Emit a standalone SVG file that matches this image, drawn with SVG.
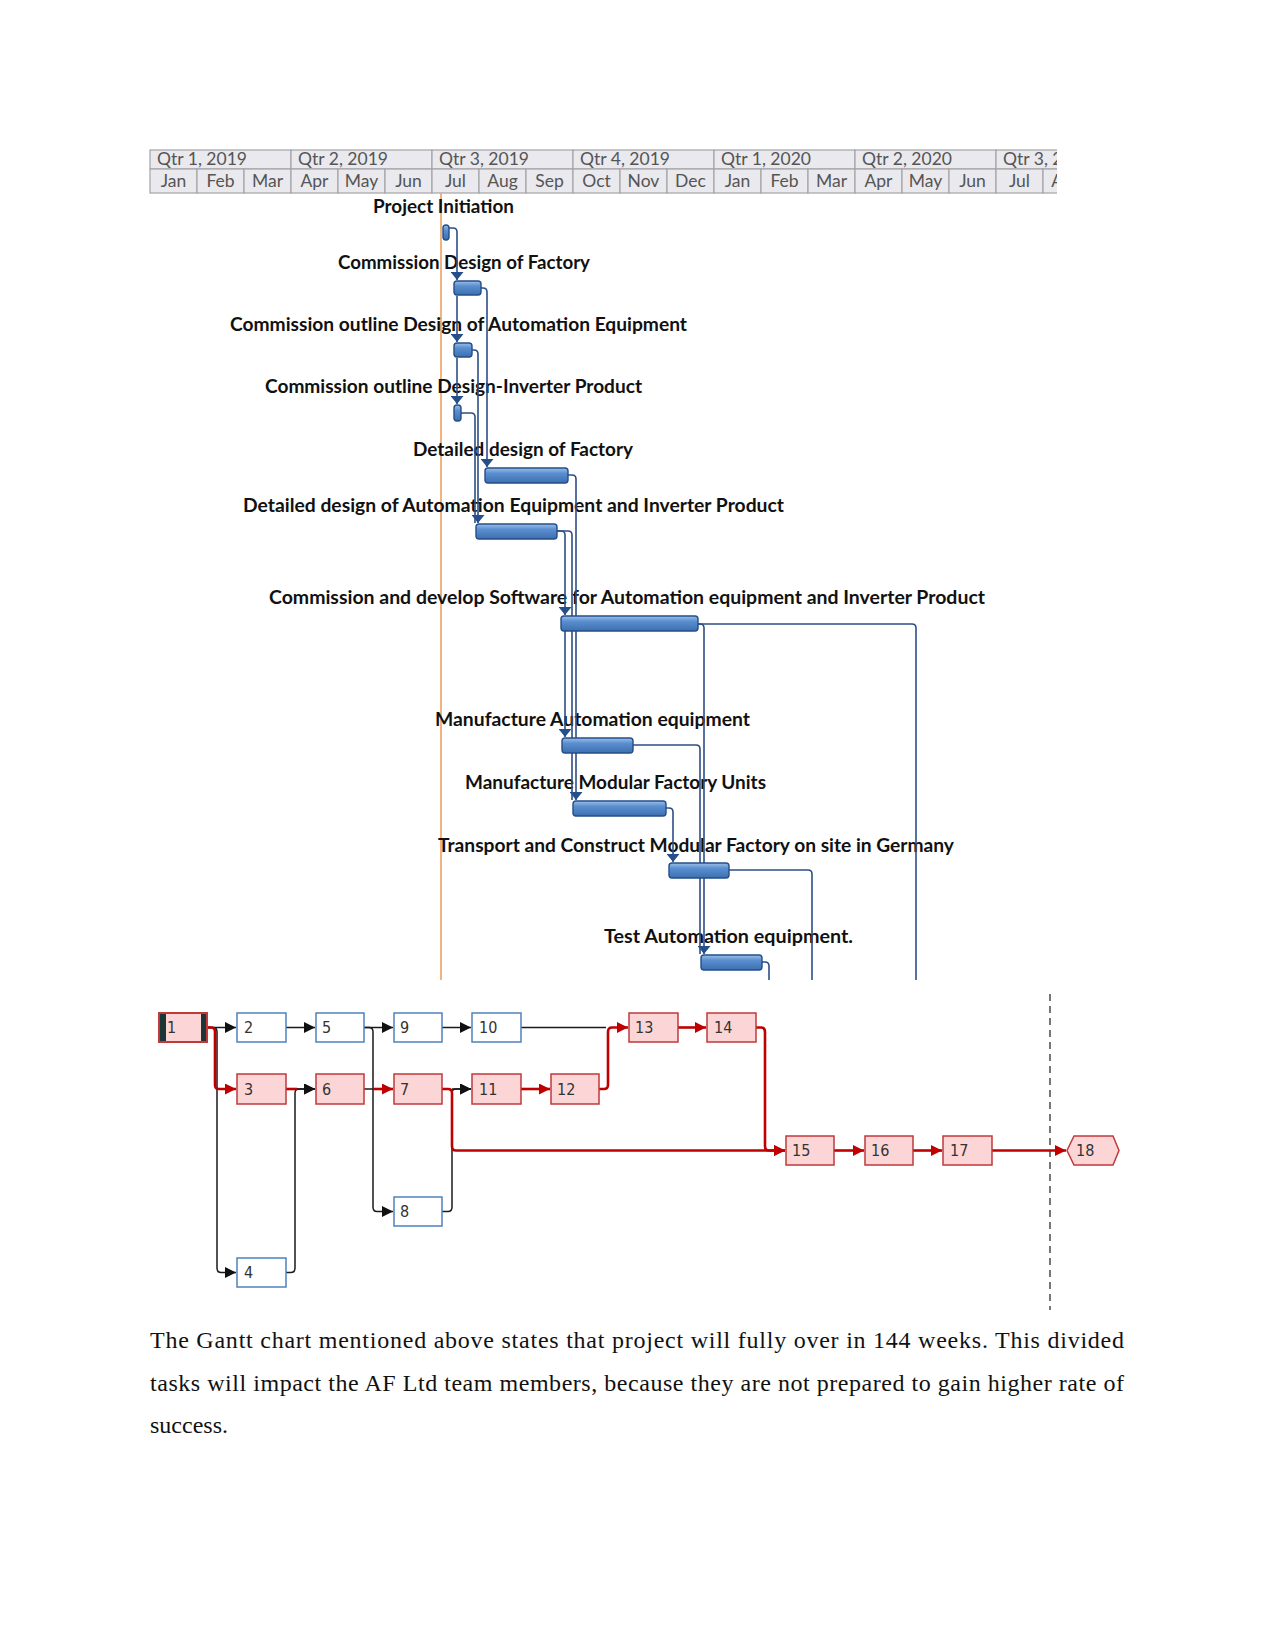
<svg xmlns="http://www.w3.org/2000/svg" width="1275" height="1650" viewBox="0 0 1275 1650">
<defs>
<style>
.hdr{fill:#e9e9ee;stroke:#a3a3a8;stroke-width:1.2}
.ht{font-family:Lato,"Open Sans",sans-serif;font-size:17.5px;fill:#555}
.gl{font-family:Lato,"Noto Sans",sans-serif;font-size:18px;font-weight:bold;fill:#111}
.bar{fill:url(#bg);stroke:#244f88;stroke-width:1.4}
.gc{fill:none;stroke:#2d4f86;stroke-width:1.6}
.nb{fill:#fff;stroke:#4f81bd;stroke-width:1.5}
.nr{fill:#fcd6d6;stroke:#c0393b;stroke-width:1.5}
.nt{font-family:"DejaVu Sans Condensed","DejaVu Sans",sans-serif;font-size:16px;fill:#333}
.kb{fill:none;stroke:#1a1a1a;stroke-width:1.5}
.kr{fill:none;stroke:#c00000;stroke-width:2.6}
.para{font-family:"Liberation Serif","Times New Roman",serif;font-size:24px;fill:#111}
</style>
<linearGradient id="bg" x1="0" y1="0" x2="0" y2="1">
<stop offset="0" stop-color="#9cc0ea"/>
<stop offset="0.35" stop-color="#5b8fd0"/>
<stop offset="1" stop-color="#3d6fb0"/>
</linearGradient>
<marker id="ga" viewBox="0 0 10 10" refX="10" refY="5" markerWidth="8" markerHeight="13" markerUnits="userSpaceOnUse" orient="auto" preserveAspectRatio="none">
<path d="M0,0 L10,5 L0,10 z" fill="#244f88"/>
</marker>
<marker id="ab" viewBox="0 0 10 10" refX="10" refY="5" markerWidth="11" markerHeight="11" markerUnits="userSpaceOnUse" orient="auto" preserveAspectRatio="none">
<path d="M0,0 L10,5 L0,10 z" fill="#111"/>
</marker>
<marker id="ar" viewBox="0 0 10 10" refX="10" refY="5" markerWidth="11" markerHeight="11" markerUnits="userSpaceOnUse" orient="auto" preserveAspectRatio="none">
<path d="M0,0 L10,5 L0,10 z" fill="#c00000"/>
</marker>
<clipPath id="hc"><rect x="149" y="149" width="908" height="45"/></clipPath>
</defs>
<rect width="1275" height="1650" fill="#fff"/>

<!-- Timescale header -->
<g id="timescale" clip-path="url(#hc)">
<rect class="hdr" x="150" y="150" width="141" height="19"/>
<rect class="hdr" x="291" y="150" width="141" height="19"/>
<rect class="hdr" x="432" y="150" width="141" height="19"/>
<rect class="hdr" x="573" y="150" width="141" height="19"/>
<rect class="hdr" x="714" y="150" width="141" height="19"/>
<rect class="hdr" x="855" y="150" width="141" height="19"/>
<rect class="hdr" x="996" y="150" width="141" height="19"/>
<text class="ht" x="157" y="165">Qtr 1, 2019</text>
<text class="ht" x="298" y="165">Qtr 2, 2019</text>
<text class="ht" x="439" y="165">Qtr 3, 2019</text>
<text class="ht" x="580" y="165">Qtr 4, 2019</text>
<text class="ht" x="721" y="165">Qtr 1, 2020</text>
<text class="ht" x="862" y="165">Qtr 2, 2020</text>
<text class="ht" x="1003" y="165">Qtr 3, 2020</text>
<g>
<rect class="hdr" x="150" y="169" width="47" height="24"/>
<rect class="hdr" x="197" y="169" width="47" height="24"/>
<rect class="hdr" x="244" y="169" width="47" height="24"/>
<rect class="hdr" x="291" y="169" width="47" height="24"/>
<rect class="hdr" x="338" y="169" width="47" height="24"/>
<rect class="hdr" x="385" y="169" width="47" height="24"/>
<rect class="hdr" x="432" y="169" width="47" height="24"/>
<rect class="hdr" x="479" y="169" width="47" height="24"/>
<rect class="hdr" x="526" y="169" width="47" height="24"/>
<rect class="hdr" x="573" y="169" width="47" height="24"/>
<rect class="hdr" x="620" y="169" width="47" height="24"/>
<rect class="hdr" x="667" y="169" width="47" height="24"/>
<rect class="hdr" x="714" y="169" width="47" height="24"/>
<rect class="hdr" x="761" y="169" width="47" height="24"/>
<rect class="hdr" x="808" y="169" width="47" height="24"/>
<rect class="hdr" x="855" y="169" width="47" height="24"/>
<rect class="hdr" x="902" y="169" width="47" height="24"/>
<rect class="hdr" x="949" y="169" width="47" height="24"/>
<rect class="hdr" x="996" y="169" width="47" height="24"/>
<rect class="hdr" x="1043" y="169" width="47" height="24"/>
</g>
<g class="ht" text-anchor="middle">
<text x="173.5" y="187">Jan</text>
<text x="220.5" y="187">Feb</text>
<text x="267.5" y="187">Mar</text>
<text x="314.5" y="187">Apr</text>
<text x="361.5" y="187">May</text>
<text x="408.5" y="187">Jun</text>
<text x="455.5" y="187">Jul</text>
<text x="502.5" y="187">Aug</text>
<text x="549.5" y="187">Sep</text>
<text x="596.5" y="187">Oct</text>
<text x="643.5" y="187">Nov</text>
<text x="690.5" y="187">Dec</text>
<text x="737.5" y="187">Jan</text>
<text x="784.5" y="187">Feb</text>
<text x="831.5" y="187">Mar</text>
<text x="878.5" y="187">Apr</text>
<text x="925.5" y="187">May</text>
<text x="972.5" y="187">Jun</text>
<text x="1019.5" y="187">Jul</text>
<text x="1066.5" y="187">Aug</text>
</g>
</g>

<!-- current date line -->
<line x1="441" y1="193" x2="441" y2="980" stroke="#f0a060" stroke-width="1.6"/>

<!-- Gantt labels -->
<g id="gantt-labels">
<text class="gl" x="373" y="213" textLength="141" lengthAdjust="spacingAndGlyphs">Project Initiation</text>
<text class="gl" x="338" y="269" textLength="252" lengthAdjust="spacingAndGlyphs">Commission Design of Factory</text>
<text class="gl" x="230" y="331" textLength="457" lengthAdjust="spacingAndGlyphs">Commission outline Design of Automation Equipment</text>
<text class="gl" x="265" y="393" textLength="377" lengthAdjust="spacingAndGlyphs">Commission outline Design-Inverter Product</text>
<text class="gl" x="413" y="456" textLength="220" lengthAdjust="spacingAndGlyphs">Detailed design of Factory</text>
<text class="gl" x="243" y="512" textLength="541" lengthAdjust="spacingAndGlyphs">Detailed design of Automation Equipment and Inverter Product</text>
<text class="gl" x="269" y="604" textLength="716" lengthAdjust="spacingAndGlyphs">Commission and develop Software for Automation equipment and Inverter Product</text>
<text class="gl" x="435" y="726" textLength="315" lengthAdjust="spacingAndGlyphs">Manufacture Automation equipment</text>
<text class="gl" x="465" y="789" textLength="301" lengthAdjust="spacingAndGlyphs">Manufacture Modular Factory Units</text>
<text class="gl" x="438" y="852" textLength="516" lengthAdjust="spacingAndGlyphs">Transport and Construct Modular Factory on site in Germany</text>
<text class="gl" x="604" y="943" textLength="249" lengthAdjust="spacingAndGlyphs">Test Automation equipment.</text>
</g>

<!-- Gantt connectors -->
<g id="gantt-connectors">
<path class="gc" d="M449 228 H453 Q457 228 457 232 V280" marker-end="url(#ga)"/>
<path class="gc" d="M457 296 V342" marker-end="url(#ga)"/>
<path class="gc" d="M457 358 V404" marker-end="url(#ga)"/>
<path class="gc" d="M481 288 H483 Q487 288 487 292 V467" marker-end="url(#ga)"/>
<path class="gc" d="M472 350 H474 Q478 350 478 354 V523" marker-end="url(#ga)"/>
<path class="gc" d="M461 413 H471 Q475 413 475 417 V523"/>
<path class="gc" d="M568 475 H572 Q576 475 576 479 V800" marker-end="url(#ga)"/>
<path class="gc" d="M557 531 H561 Q565 531 565 535 V615" marker-end="url(#ga)"/>
<path class="gc" d="M565 631 V737" marker-end="url(#ga)"/>
<path class="gc" d="M557 531 H568 Q572 531 572 535 V800"/>
<path class="gc" d="M698 624 H700 Q704 624 704 628 V954" marker-end="url(#ga)"/>
<path class="gc" d="M698 624 H912 Q916 624 916 628 V980"/>
<path class="gc" d="M633 745 H696 Q700 745 700 749 V954"/>
<path class="gc" d="M666 808 H669 Q673 808 673 812 V862" marker-end="url(#ga)"/>
<path class="gc" d="M729 870 H808 Q812 870 812 874 V980"/>
<path class="gc" d="M762 962 H765 Q769 962 769 966 V980"/>
</g>

<!-- Gantt bars -->
<g id="task-1"><rect class="bar" x="443" y="225" width="6" height="15" rx="3"/></g>
<g id="task-2"><rect class="bar" x="454" y="281" width="27" height="14" rx="3"/></g>
<g id="task-3"><rect class="bar" x="454" y="343" width="18" height="14" rx="3"/></g>
<g id="task-4"><rect class="bar" x="454" y="405" width="7" height="16" rx="3"/></g>
<g id="task-5"><rect class="bar" x="485" y="468" width="83" height="15" rx="3"/></g>
<g id="task-6"><rect class="bar" x="476" y="524" width="81" height="15" rx="3"/></g>
<g id="task-7"><rect class="bar" x="561" y="616" width="137" height="15" rx="3"/></g>
<g id="task-8"><rect class="bar" x="562" y="738" width="71" height="15" rx="3"/></g>
<g id="task-9"><rect class="bar" x="573" y="801" width="93" height="15" rx="3"/></g>
<g id="task-10"><rect class="bar" x="669" y="863" width="60" height="15" rx="3"/></g>
<g id="task-11"><rect class="bar" x="701" y="955" width="61" height="15" rx="3"/></g>

<!-- Network connectors -->
<g id="net-connectors">
<line x1="1050" y1="994" x2="1050" y2="1310" stroke="#555" stroke-width="1.6" stroke-dasharray="7,5"/>
<path class="kb" d="M207 1027.5 H236" marker-end="url(#ab)"/>
<path class="kb" d="M207 1027.5 H213 Q217 1027.5 217 1032 V1268 Q217 1272.5 221 1272.5 H236" marker-end="url(#ab)"/>
<path class="kb" d="M286 1027.5 H315" marker-end="url(#ab)"/>
<path class="kb" d="M364 1027.5 H393" marker-end="url(#ab)"/>
<path class="kb" d="M364 1027.5 H369 Q373 1027.5 373 1032 V1207 Q373 1211.5 377 1211.5 H393" marker-end="url(#ab)"/>
<path class="kb" d="M442 1027.5 H471" marker-end="url(#ab)"/>
<path class="kb" d="M521 1027.5 H606"/>
<path class="kb" d="M286 1272.5 H291 Q295 1272.5 295 1268 V1093 Q295 1089 299 1089 H315" marker-end="url(#ab)"/>
<path class="kb" d="M296 1089 H315" marker-end="url(#ab)"/>
<path class="kb" d="M364 1089 H374"/>
<path class="kb" d="M442 1211.5 H448 Q452 1211.5 452 1207 V1093 Q452 1089 456 1089 H471" marker-end="url(#ab)"/>
<path class="kb" d="M452 1089 H471" marker-end="url(#ab)"/>
<path class="kr" d="M207 1027.5 H211 Q215 1027.5 215 1032 V1085 Q215 1089 219 1089 H236" marker-end="url(#ar)"/>
<path class="kr" d="M286 1089 H297"/>
<path class="kr" d="M373 1089 H393" marker-end="url(#ar)"/>
<path class="kr" d="M442 1089 H448 Q452 1089 452 1093 V1146 Q452 1150.5 456 1150.5 H785" marker-end="url(#ar)"/>
<path class="kr" d="M521 1089 H550" marker-end="url(#ar)"/>
<path class="kr" d="M599 1089 H604 Q608 1089 608 1085 V1032 Q608 1027.5 612 1027.5 H628" marker-end="url(#ar)"/>
<path class="kr" d="M678 1027.5 H706" marker-end="url(#ar)"/>
<path class="kr" d="M756 1027.5 H761 Q765 1027.5 765 1032 V1146 Q765 1150.5 769 1150.5 H785" marker-end="url(#ar)"/>
<path class="kr" d="M834 1150.5 H864" marker-end="url(#ar)"/>
<path class="kr" d="M913 1150.5 H942" marker-end="url(#ar)"/>
<path class="kr" d="M992 1150.5 H1066" marker-end="url(#ar)"/>
</g>

<!-- Network nodes -->
<g id="node-1">
<rect x="159" y="1013" width="48" height="29" fill="#fcd6d6" stroke="#c0393b" stroke-width="2"/>
<rect x="160" y="1014" width="6" height="27" fill="#1c3535"/>
<rect x="201" y="1014" width="5" height="27" fill="#1c3535"/>
<text class="nt" x="167" y="1033">1</text>
</g>
<g id="node-2"><rect class="nb" x="237" y="1013" width="49" height="29"/><text class="nt" x="244" y="1033">2</text></g>
<g id="node-5"><rect class="nb" x="316" y="1013" width="48" height="29"/><text class="nt" x="322" y="1033">5</text></g>
<g id="node-9"><rect class="nb" x="394" y="1013" width="48" height="29"/><text class="nt" x="400" y="1033">9</text></g>
<g id="node-10"><rect class="nb" x="472" y="1013" width="49" height="29"/><text class="nt" x="479" y="1033">10</text></g>
<g id="node-13"><rect class="nr" x="629" y="1013" width="49" height="29"/><text class="nt" x="635" y="1033">13</text></g>
<g id="node-14"><rect class="nr" x="707" y="1013" width="49" height="29"/><text class="nt" x="714" y="1033">14</text></g>
<g id="node-3"><rect class="nr" x="237" y="1074" width="49" height="30"/><text class="nt" x="244" y="1095">3</text></g>
<g id="node-6"><rect class="nr" x="316" y="1074" width="48" height="30"/><text class="nt" x="322" y="1095">6</text></g>
<g id="node-7"><rect class="nr" x="394" y="1074" width="48" height="30"/><text class="nt" x="400" y="1095">7</text></g>
<g id="node-11"><rect class="nr" x="472" y="1074" width="49" height="30"/><text class="nt" x="479" y="1095">11</text></g>
<g id="node-12"><rect class="nr" x="551" y="1074" width="48" height="30"/><text class="nt" x="557" y="1095">12</text></g>
<g id="node-15"><rect class="nr" x="786" y="1136" width="48" height="29"/><text class="nt" x="792" y="1156">15</text></g>
<g id="node-16"><rect class="nr" x="865" y="1136" width="48" height="29"/><text class="nt" x="871" y="1156">16</text></g>
<g id="node-17"><rect class="nr" x="943" y="1136" width="49" height="29"/><text class="nt" x="950" y="1156">17</text></g>
<g id="node-18"><polygon class="nr" points="1067,1150.5 1074,1136 1113,1136 1119,1150.5 1113,1165 1074,1165"/><text class="nt" x="1076" y="1156">18</text></g>
<g id="node-8"><rect class="nb" x="394" y="1197" width="48" height="29"/><text class="nt" x="400" y="1217">8</text></g>
<g id="node-4"><rect class="nb" x="237" y="1258" width="49" height="29"/><text class="nt" x="244" y="1278">4</text></g>

<!-- Paragraph -->
<g id="paragraph">
<text class="para" x="150" y="1348" textLength="974" lengthAdjust="spacing">The Gantt chart mentioned above states that project will fully over in 144 weeks. This divided</text>
<text class="para" x="150" y="1391" textLength="974" lengthAdjust="spacing">tasks will impact the AF Ltd team members, because they are not prepared to gain higher rate of</text>
<text class="para" x="150" y="1433">success.</text>
</g>
</svg>
